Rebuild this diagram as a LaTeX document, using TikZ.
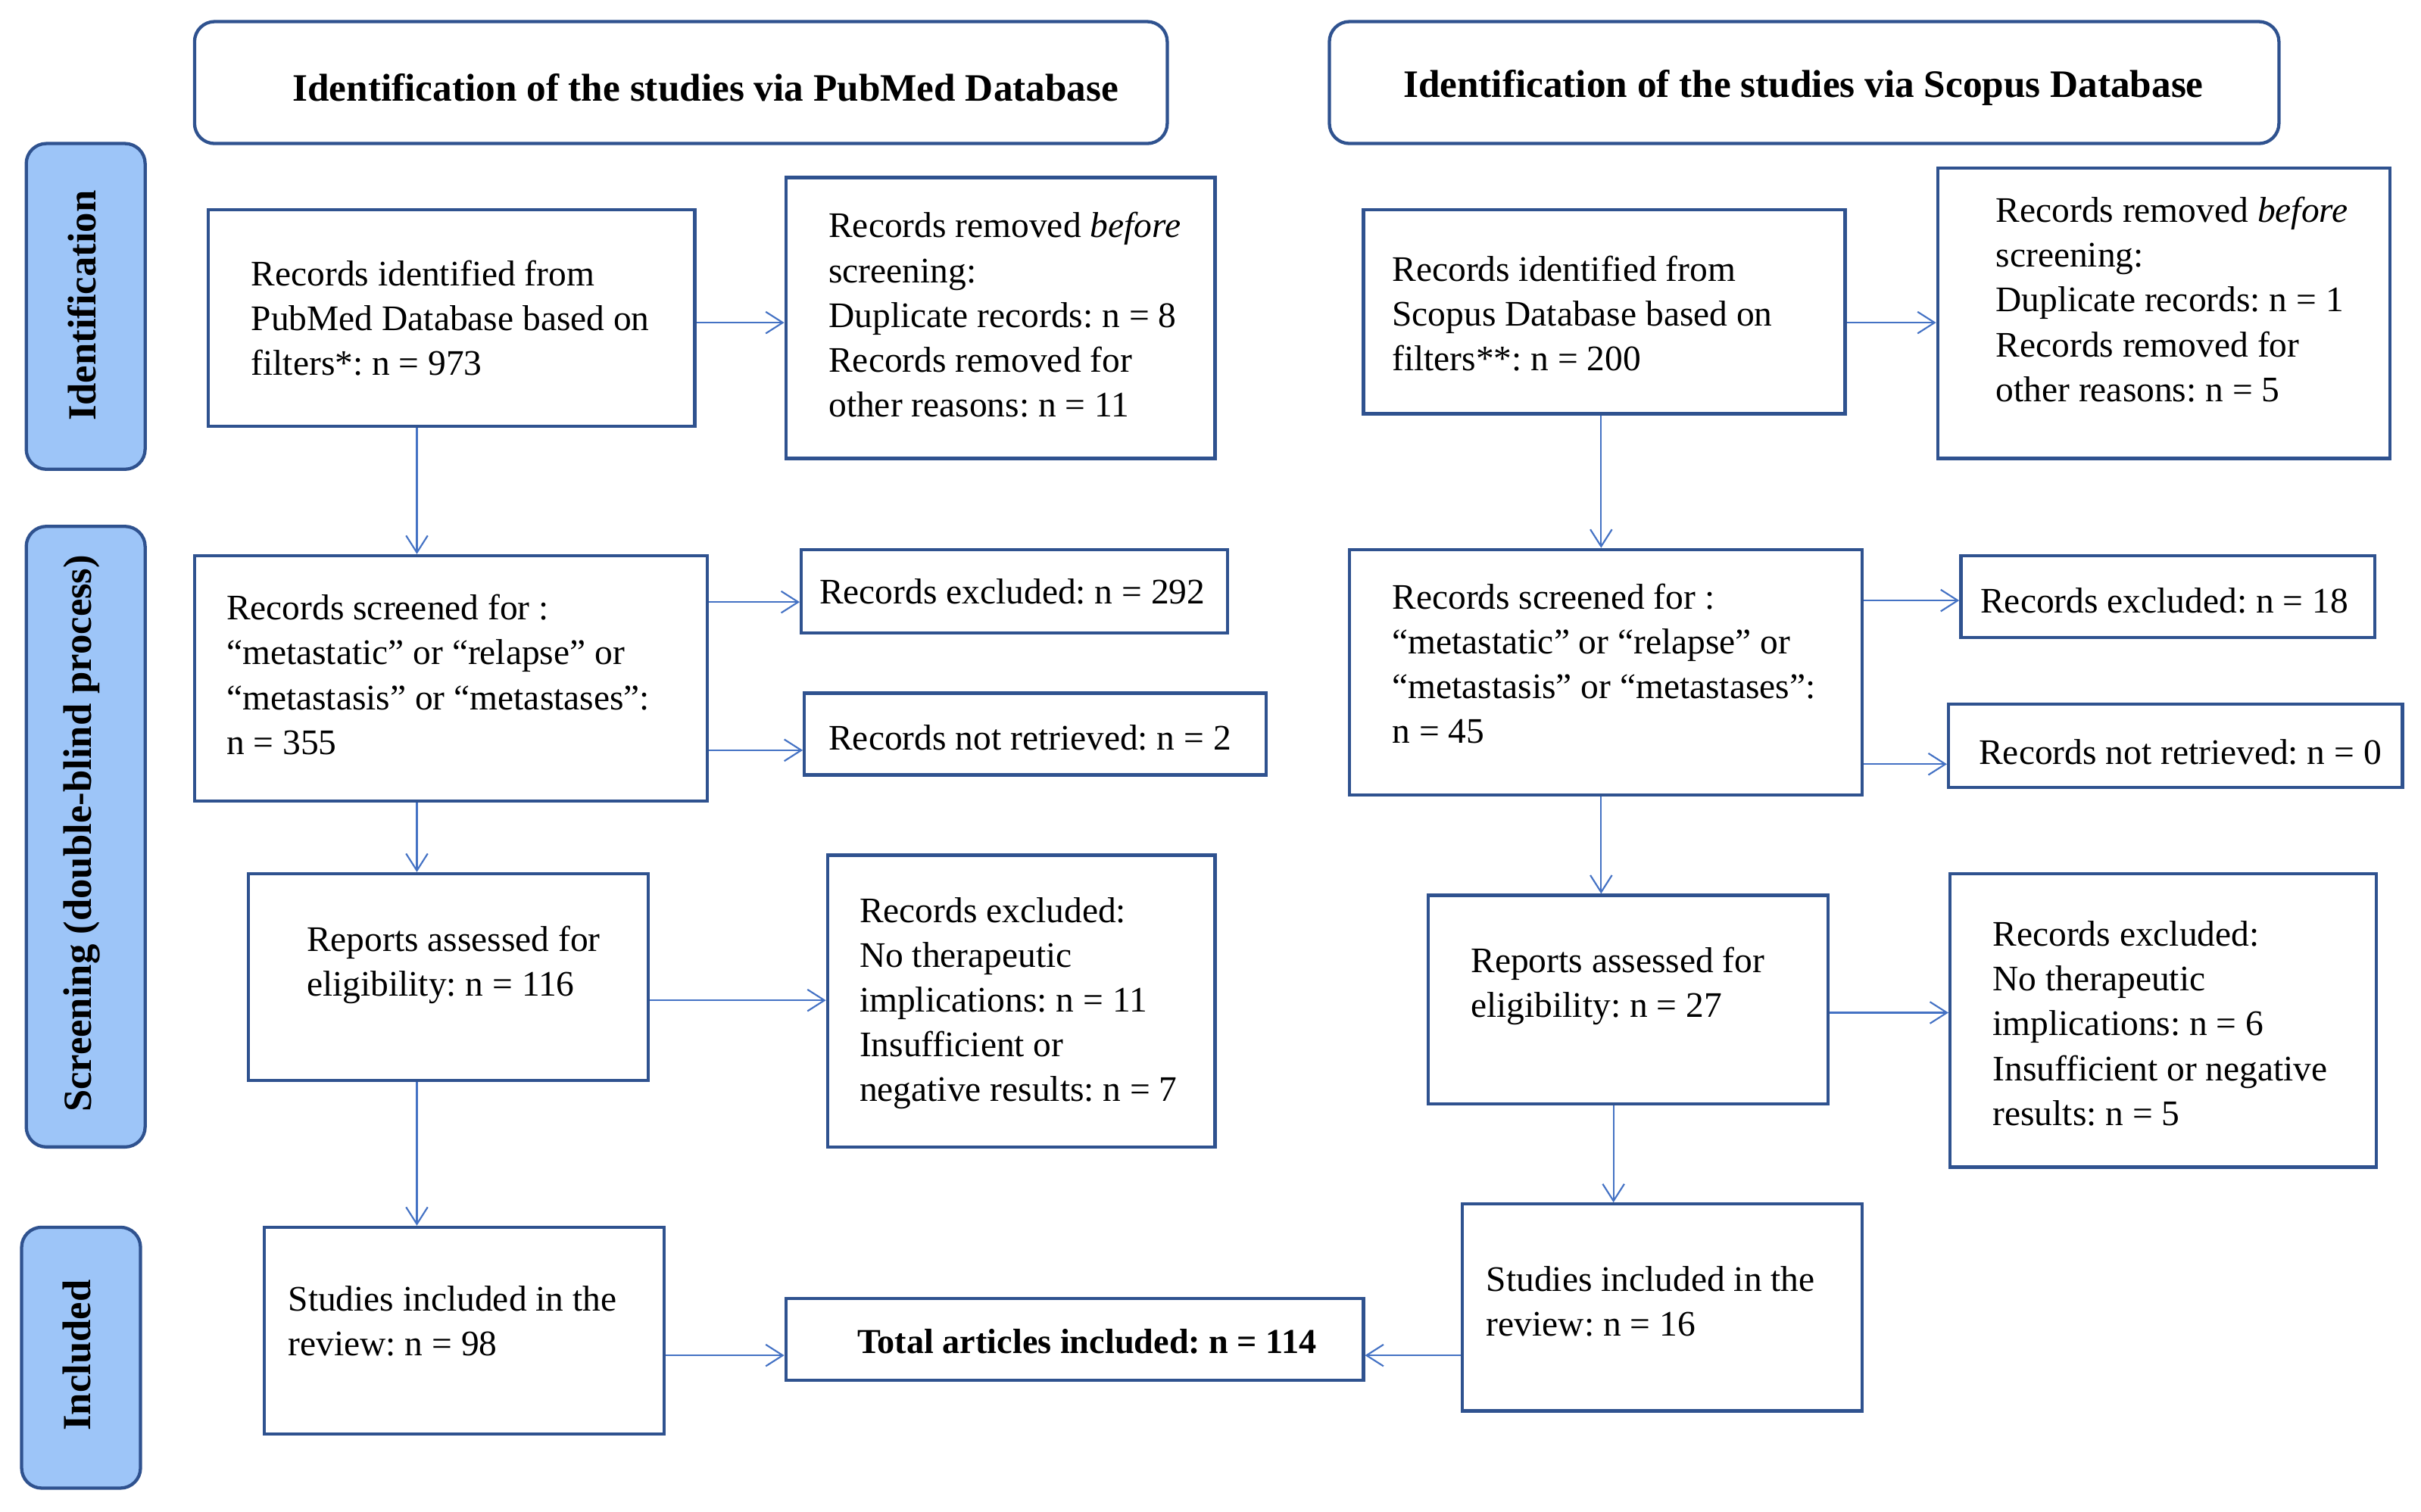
\documentclass[tikz,border=0pt]{standalone}
\usepackage{fontspec}
\setmainfont{Liberation Serif}
\usetikzlibrary{arrows.meta,fit}
\definecolor{boxc}{RGB}{47,82,143}
\definecolor{arrc}{RGB}{68,114,196}
\definecolor{sidefill}{RGB}{157,197,248}
\frenchspacing
\tikzset{
  box/.style={draw=boxc, line width=0.6pt, inner sep=0pt, rectangle},
  headbox/.style={draw=boxc, line width=0.6pt, inner sep=0pt, rounded corners=0.13cm},
  sidebox/.style={draw=boxc, fill=sidefill, line width=0.6pt, inner sep=0pt, rounded corners=0.13cm},
  txt/.style={inner sep=0pt, align=left, font=\fontsize{6.62}{8.25}\selectfont\frenchspacing},
  headtxt/.style={inner sep=0pt, font=\fontsize{7.15}{8}\selectfont\bfseries\frenchspacing},
  tottxt/.style={inner sep=0pt, font=\fontsize{6.45}{8}\selectfont\bfseries\frenchspacing},
  sidetxt/.style={inner sep=0pt, rotate=90, font=\fontsize{7.35}{8}\selectfont\bfseries},
  arr/.style={draw=arrc, line width=0.3pt, -{Straight Barb[length=1.1mm, width=1.4mm, line width=0.3pt]}},
}
\newcommand\bx[6]{\node[#6, fit={(#2,#3) (#4,#5)}] (#1) {};}
\begin{document}
\begin{tikzpicture}[x=0.01cm, y=-0.01cm]
\useasboundingbox (0,0) rectangle (1568,979.4);
% headers
\bx{h1}{126}{14}{756}{93}{headbox}
\node[headtxt] (h1t) at (457,57) {Identification of the studies via PubMed Database};
\bx{h2}{861}{14}{1476}{93}{headbox}
\node[headtxt] (h2t) at (1168,57) {Identification of the studies via Scopus Database};
% side labels
\bx{s1}{17}{93}{94}{304}{sidebox}
\node[sidetxt] (s1t) at (53,198) {Identification};
\bx{s2}{17}{341}{94}{743}{sidebox}
\node[sidetxt] (s2t) at (53,540) {Screening (double-blind process)};
\bx{s3}{14}{795}{91}{964}{sidebox}
\node[sidetxt] (s3t) at (50,878) {Included};
% left column
\bx{a1}{135}{136}{450}{276}{box}
\node[txt, anchor=west] (a1t) at (162,206) {Records identified from\\PubMed Database based on\\filters*: n = 973};
\bx{a2}{509}{115}{787}{297}{box}
\node[txt, anchor=west] (a2t) at (536,204) {Records removed \textit{before}\\screening:\\Duplicate records: n = 8\\Records removed for\\other reasons: n = 11};
\bx{a3}{126}{360}{458}{519}{box}
\node[txt, anchor=west] (a3t) at (146,437) {Records screened for :\\“metastatic” or “relapse” or\\“metastasis” or “metastases”:\\n = 355};
\bx{a4}{519}{356}{795}{410}{box}
\node[txt, anchor=west] (a4t) at (530,383) {Records excluded: n = 292};
\bx{a5}{521}{449}{820}{502}{box}
\node[txt, anchor=west] (a5t) at (536,478) {Records not retrieved: n = 2};
\bx{a6}{161}{566}{420}{700}{box}
\node[txt, anchor=west] (a6t) at (198,625) {Reports assessed for\\eligibility: n = 116};
\bx{a7}{536}{554}{787}{743}{box}
\node[txt, anchor=west] (a7t) at (556,650) {Records excluded:\\No therapeutic\\implications: n = 11\\Insufficient or\\negative results: n = 7};
\bx{a8}{171}{795}{430}{929}{box}
\node[txt, anchor=west] (a8t) at (186,856) {Studies included in the\\review: n = 98};
\bx{tot}{509}{841}{883}{894}{box}
\node[tottxt] (tott) at (704,869) {Total articles included: n = 114};
% right column
\bx{b1}{883}{136}{1195}{268}{box}
\node[txt, anchor=west] (b1t) at (901,203) {Records identified from\\Scopus Database based on\\filters**: n = 200};
\bx{b2}{1255}{109}{1548}{297}{box}
\node[txt, anchor=west] (b2t) at (1292,194) {Records removed \textit{before}\\screening:\\Duplicate records: n = 1\\Records removed for\\other reasons: n = 5};
\bx{b3}{874}{356}{1206}{515}{box}
\node[txt, anchor=west] (b3t) at (901,430) {Records screened for :\\“metastatic” or “relapse” or\\“metastasis” or “metastases”:\\n = 45};
\bx{b4}{1270}{360}{1538}{413}{box}
\node[txt, anchor=west] (b4t) at (1282,389) {Records excluded: n = 18};
\bx{b5}{1262}{456}{1556}{510}{box}
\node[txt, anchor=west] (b5t) at (1281,487) {Records not retrieved: n = 0};
\bx{b6}{925}{580}{1184}{715}{box}
\node[txt, anchor=west] (b6t) at (952,639) {Reports assessed for\\eligibility: n = 27};
\bx{b7}{1263}{566}{1539}{756}{box}
\node[txt, anchor=west] (b7t) at (1290,663) {Records excluded:\\No therapeutic\\implications: n = 6\\Insufficient or negative\\results: n = 5};
\bx{b8}{947}{780}{1206}{914}{box}
\node[txt, anchor=west] (b8t) at (962,843) {Studies included in the\\review: n = 16};
% helper coordinates
\coordinate (xl) at (270,0);
\coordinate (xr) at (1037,0);
\coordinate (xr2) at (1045,0);
\coordinate (l209) at (0,209);
\coordinate (l390) at (0,390);
\coordinate (l486) at (0,486);
\coordinate (l648) at (0,648);
\coordinate (l878) at (0,878);
\coordinate (l389) at (0,389);
\coordinate (l495) at (0,495);
\coordinate (l656) at (0,656);
% arrows left
\draw[arr] (a1.east |- l209) -- (a2.west |- l209);
\draw[arr] (a1.south -| xl) -- (a3.north -| xl);
\draw[arr] (a3.east |- l390) -- (a4.west |- l390);
\draw[arr] (a3.east |- l486) -- (a5.west |- l486);
\draw[arr] (a3.south -| xl) -- (a6.north -| xl);
\draw[arr] (a6.east |- l648) -- (a7.west |- l648);
\draw[arr] (a6.south -| xl) -- (a8.north -| xl);
\draw[arr] (a8.east |- l878) -- (tot.west |- l878);
% arrows right
\draw[arr] (b1.east |- l209) -- (b2.west |- l209);
\draw[arr] (b1.south -| xr) -- (b3.north -| xr);
\draw[arr] (b3.east |- l389) -- (b4.west |- l389);
\draw[arr] (b3.east |- l495) -- (b5.west |- l495);
\draw[arr] (b3.south -| xr) -- (b6.north -| xr);
\draw[arr] (b6.east |- l656) -- (b7.west |- l656);
\draw[arr] (b6.south -| xr2) -- (b8.north -| xr2);
\draw[arr] (b8.west |- l878) -- (tot.east |- l878);
\end{tikzpicture}
\end{document}
